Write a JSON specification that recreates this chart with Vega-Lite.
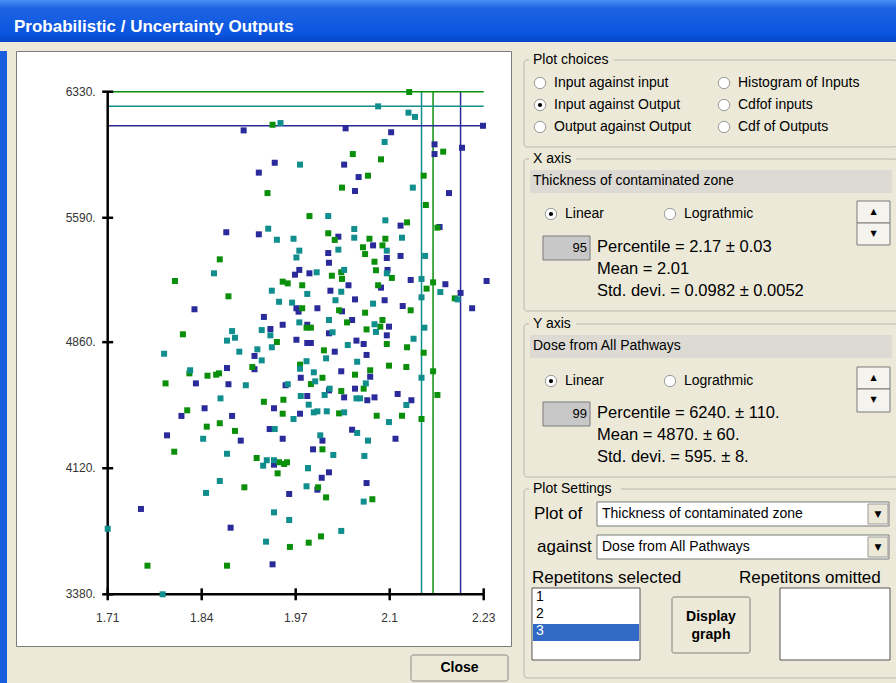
{
"$schema": "https://vega.github.io/schema/vega-lite/v6.json",
"background": "#ece9d8",
"padding": 0,
"config": {
  "view": {"stroke": null},
  "font": "Liberation Sans"
},
"datasets": {
  "choices": [
    {"label": "Input against input", "col": 0, "row": 0, "sel": false},
    {"label": "Input against Output", "col": 0, "row": 1, "sel": true},
    {"label": "Output against Output", "col": 0, "row": 2, "sel": false},
    {"label": "Histogram of Inputs", "col": 1, "row": 0, "sel": false},
    {"label": "Cdfof inputs", "col": 1, "row": 1, "sel": false},
    {"label": "Cdf of Outputs", "col": 1, "row": 2, "sel": false}
  ],
  "pct": [{"rep":"1","px":2.144,"py":6244},{"rep":"2","px":2.160,"py":6330},{"rep":"3","px":2.198,"py":6130}],
  "xticks": [{"v":1.71,"label":"1.71"},{"v":1.84,"label":"1.84"},{"v":1.97,"label":"1.97"},{"v":2.1,"label":"2.1"},{"v":2.23,"label":"2.23"}],
  "yticks": [{"v":3380,"label":"3380."},{"v":4120,"label":"4120."},{"v":4860,"label":"4860."},{"v":5590,"label":"5590."},{"v":6330,"label":"6330."}],
  "points": [
{"rep":"3","x":1.898,"y":6103},{"rep":"3","x":1.941,"y":5913},{"rep":"3","x":1.919,"y":5855},{"rep":"3","x":1.874,"y":5505},{"rep":"3","x":1.919,"y":5493},
{"rep":"3","x":2.039,"y":6115},{"rep":"3","x":2.102,"y":6092},{"rep":"3","x":2.162,"y":6021},{"rep":"3","x":2.162,"y":5964},{"rep":"3","x":2.200,"y":6001},
{"rep":"3","x":2.037,"y":5902},{"rep":"3","x":2.057,"y":5829},{"rep":"3","x":2.052,"y":5747},{"rep":"3","x":2.182,"y":5735},{"rep":"3","x":2.115,"y":5544},
{"rep":"3","x":2.169,"y":5536},{"rep":"3","x":2.029,"y":5479},{"rep":"3","x":2.077,"y":5428},{"rep":"3","x":2.015,"y":5383},{"rep":"3","x":2.115,"y":5366},
{"rep":"3","x":2.096,"y":5354},{"rep":"3","x":2.016,"y":5326},{"rep":"3","x":1.975,"y":5284},{"rep":"3","x":1.969,"y":5256},{"rep":"3","x":1.830,"y":5053},
{"rep":"3","x":1.971,"y":5059},{"rep":"3","x":1.974,"y":5039},{"rep":"3","x":1.926,"y":5008},{"rep":"3","x":1.952,"y":4962},{"rep":"3","x":1.935,"y":4937},
{"rep":"3","x":1.971,"y":4874},{"rep":"3","x":1.913,"y":4779},{"rep":"3","x":1.913,"y":4701},{"rep":"3","x":1.875,"y":4708},{"rep":"3","x":1.832,"y":4618},
{"rep":"3","x":1.877,"y":4613},{"rep":"3","x":1.956,"y":4607},{"rep":"3","x":1.977,"y":4651},{"rep":"3","x":1.844,"y":4472},{"rep":"3","x":1.940,"y":4472},
{"rep":"3","x":1.812,"y":4427},{"rep":"3","x":1.882,"y":4427},{"rep":"3","x":1.976,"y":4440},{"rep":"3","x":1.934,"y":4350},{"rep":"3","x":1.792,"y":4313},
{"rep":"3","x":1.989,"y":5264},{"rep":"3","x":2.097,"y":5284},{"rep":"3","x":2.129,"y":5225},{"rep":"3","x":2.177,"y":5200},{"rep":"3","x":2.234,"y":5219},
{"rep":"3","x":2.198,"y":5149},{"rep":"3","x":2.214,"y":5059},{"rep":"3","x":2.043,"y":5194},{"rep":"3","x":2.088,"y":5180},{"rep":"3","x":2.018,"y":5162},
{"rep":"3","x":2.052,"y":5111},{"rep":"3","x":2.093,"y":5106},{"rep":"3","x":2.118,"y":5072},{"rep":"3","x":2.000,"y":5059},{"rep":"3","x":2.034,"y":5041},
{"rep":"3","x":1.986,"y":4962},{"rep":"3","x":2.048,"y":4990},{"rep":"3","x":2.099,"y":4951},{"rep":"3","x":2.016,"y":4912},{"rep":"3","x":2.096,"y":4900},
{"rep":"3","x":1.986,"y":4855},{"rep":"3","x":1.991,"y":4855},{"rep":"3","x":2.054,"y":4869},{"rep":"3","x":2.064,"y":4849},{"rep":"3","x":2.024,"y":4804},
{"rep":"3","x":2.068,"y":4785},{"rep":"3","x":2.033,"y":4689},{"rep":"3","x":2.073,"y":4657},{"rep":"3","x":2.052,"y":4587},{"rep":"3","x":2.016,"y":4577},
{"rep":"3","x":2.111,"y":4556},{"rep":"3","x":1.986,"y":4544},{"rep":"3","x":2.037,"y":4536},{"rep":"3","x":2.069,"y":4519},{"rep":"3","x":2.079,"y":4536},
{"rep":"3","x":2.130,"y":4519},{"rep":"3","x":2.048,"y":4346},{"rep":"3","x":1.894,"y":4282},{"rep":"3","x":1.952,"y":4293},{"rep":"3","x":1.940,"y":4141},
{"rep":"3","x":1.961,"y":3969},{"rep":"3","x":1.756,"y":3881},{"rep":"3","x":1.880,"y":3771},{"rep":"3","x":1.938,"y":3556},{"rep":"3","x":2.007,"y":4282},
{"rep":"3","x":2.108,"y":4293},{"rep":"3","x":1.994,"y":4231},{"rep":"3","x":2.016,"y":4096},{"rep":"3","x":2.006,"y":4064},{"rep":"3","x":2.068,"y":4033},
{"rep":"3","x":2.000,"y":3994},{"rep":"3","x":2.229,"y":6130},
{"rep":"2","x":1.938,"y":6136},{"rep":"2","x":1.931,"y":5735},{"rep":"2","x":1.865,"y":5346},{"rep":"2","x":2.127,"y":6328},{"rep":"2","x":2.174,"y":5978},
{"rep":"2","x":2.049,"y":5964},{"rep":"2","x":2.088,"y":5933},{"rep":"2","x":2.070,"y":5837},{"rep":"2","x":2.034,"y":5767},{"rep":"2","x":2.147,"y":5837},
{"rep":"2","x":2.150,"y":5665},{"rep":"2","x":1.989,"y":5600},{"rep":"2","x":2.124,"y":5563},{"rep":"2","x":2.166,"y":5532},{"rep":"2","x":2.015,"y":5499},
{"rep":"2","x":2.024,"y":5460},{"rep":"2","x":2.072,"y":5467},{"rep":"2","x":2.094,"y":5467},{"rep":"2","x":2.063,"y":5417},{"rep":"2","x":2.090,"y":5428},
{"rep":"2","x":2.066,"y":5377},{"rep":"2","x":2.079,"y":5332},{"rep":"2","x":1.803,"y":5219},{"rep":"2","x":1.952,"y":5215},{"rep":"2","x":1.959,"y":5205},
{"rep":"2","x":1.979,"y":5194},{"rep":"2","x":1.877,"y":5129},{"rep":"2","x":1.979,"y":5059},{"rep":"2","x":1.814,"y":4906},{"rep":"2","x":1.944,"y":4861},
{"rep":"2","x":1.910,"y":4714},{"rep":"2","x":1.976,"y":4728},{"rep":"2","x":1.823,"y":4677},{"rep":"2","x":1.848,"y":4663},{"rep":"2","x":1.860,"y":4669},
{"rep":"2","x":1.864,"y":4677},{"rep":"2","x":1.790,"y":4618},{"rep":"2","x":1.926,"y":4510},{"rep":"2","x":1.953,"y":4522},{"rep":"2","x":1.820,"y":4460},
{"rep":"2","x":1.952,"y":4440},{"rep":"2","x":1.847,"y":4364},{"rep":"2","x":1.865,"y":4384},{"rep":"2","x":1.886,"y":4339},{"rep":"2","x":2.020,"y":5250},
{"rep":"2","x":2.033,"y":5270},{"rep":"2","x":2.034,"y":5231},{"rep":"2","x":2.081,"y":5282},{"rep":"2","x":2.103,"y":5237},{"rep":"2","x":2.160,"y":5211},
{"rep":"2","x":2.151,"y":5174},{"rep":"2","x":2.190,"y":5117},{"rep":"2","x":2.084,"y":5194},{"rep":"2","x":2.129,"y":5047},{"rep":"2","x":2.030,"y":5047},
{"rep":"2","x":2.066,"y":5033},{"rep":"2","x":1.985,"y":4945},{"rep":"2","x":1.991,"y":4945},{"rep":"2","x":2.041,"y":4976},{"rep":"2","x":2.090,"y":4990},
{"rep":"2","x":2.087,"y":4951},{"rep":"2","x":2.068,"y":4935},{"rep":"2","x":2.096,"y":4849},{"rep":"2","x":2.124,"y":4830},{"rep":"2","x":2.009,"y":4812},
{"rep":"2","x":2.147,"y":4798},{"rep":"2","x":2.099,"y":4722},{"rep":"2","x":2.123,"y":4714},{"rep":"2","x":2.073,"y":4695},{"rep":"2","x":2.160,"y":4689},
{"rep":"2","x":2.052,"y":4669},{"rep":"2","x":2.007,"y":4651},{"rep":"2","x":1.991,"y":4614},{"rep":"2","x":2.064,"y":4587},{"rep":"2","x":2.033,"y":4573},
{"rep":"2","x":2.166,"y":4550},{"rep":"2","x":2.030,"y":4442},{"rep":"2","x":2.082,"y":4428},{"rep":"2","x":2.117,"y":4428},{"rep":"2","x":2.144,"y":4409},
{"rep":"2","x":1.802,"y":4217},{"rep":"2","x":1.916,"y":4180},{"rep":"2","x":1.947,"y":4155},{"rep":"2","x":1.954,"y":4145},{"rep":"2","x":1.958,"y":4155},
{"rep":"2","x":1.945,"y":4090},{"rep":"2","x":1.899,"y":4008},{"rep":"2","x":1.962,"y":3658},{"rep":"2","x":1.765,"y":3548},{"rep":"2","x":1.875,"y":3548},
{"rep":"2","x":2.007,"y":4231},{"rep":"2","x":1.987,"y":4120},{"rep":"2","x":2.001,"y":4008},{"rep":"2","x":2.012,"y":3949},{"rep":"2","x":2.076,"y":3938},
{"rep":"2","x":2.005,"y":3720},{"rep":"2","x":1.988,"y":3683},
{"rep":"1","x":1.949,"y":6146},{"rep":"1","x":1.976,"y":5902},{"rep":"1","x":1.932,"y":5526},{"rep":"1","x":1.944,"y":5461},{"rep":"1","x":1.967,"y":5467},
{"rep":"1","x":1.975,"y":5397},{"rep":"1","x":1.971,"y":5357},{"rep":"1","x":2.084,"y":6244},{"rep":"1","x":2.126,"y":6207},{"rep":"1","x":2.135,"y":6182},
{"rep":"1","x":2.093,"y":6035},{"rep":"1","x":2.132,"y":5767},{"rep":"1","x":2.015,"y":5600},{"rep":"1","x":2.094,"y":5575},{"rep":"1","x":2.051,"y":5524},
{"rep":"1","x":2.051,"y":5473},{"rep":"1","x":2.117,"y":5473},{"rep":"1","x":2.029,"y":5403},{"rep":"1","x":2.096,"y":5397},{"rep":"1","x":2.149,"y":5366},
{"rep":"1","x":1.857,"y":5264},{"rep":"1","x":1.937,"y":5162},{"rep":"1","x":1.947,"y":5097},{"rep":"1","x":1.965,"y":5092},{"rep":"1","x":1.975,"y":4976},
{"rep":"1","x":1.923,"y":4931},{"rep":"1","x":1.935,"y":4900},{"rep":"1","x":1.882,"y":4925},{"rep":"1","x":1.886,"y":4886},{"rep":"1","x":1.875,"y":4869},
{"rep":"1","x":1.937,"y":4830},{"rep":"1","x":1.917,"y":4818},{"rep":"1","x":1.892,"y":4804},{"rep":"1","x":1.788,"y":4792},{"rep":"1","x":1.923,"y":4753},
{"rep":"1","x":1.976,"y":4704},{"rep":"1","x":1.824,"y":4695},{"rep":"1","x":1.901,"y":4607},{"rep":"1","x":1.959,"y":4613},{"rep":"1","x":1.866,"y":4530},
{"rep":"1","x":1.977,"y":4544},{"rep":"1","x":1.967,"y":4409},{"rep":"1","x":1.941,"y":4350},{"rep":"1","x":1.999,"y":5270},{"rep":"1","x":2.037,"y":5284},
{"rep":"1","x":2.096,"y":5264},{"rep":"1","x":2.144,"y":5231},{"rep":"1","x":2.170,"y":5154},{"rep":"1","x":2.194,"y":5111},{"rep":"1","x":2.144,"y":5123},
{"rep":"1","x":2.033,"y":5156},{"rep":"1","x":1.986,"y":5143},{"rep":"1","x":2.025,"y":5106},{"rep":"1","x":2.077,"y":5086},{"rep":"1","x":2.016,"y":4990},
{"rep":"1","x":2.079,"y":4965},{"rep":"1","x":2.081,"y":4920},{"rep":"1","x":2.021,"y":4918},{"rep":"1","x":2.148,"y":4945},{"rep":"1","x":2.133,"y":4880},
{"rep":"1","x":2.042,"y":4843},{"rep":"1","x":2.012,"y":4765},{"rep":"1","x":1.985,"y":4748},{"rep":"1","x":2.055,"y":4745},{"rep":"1","x":1.995,"y":4683},
{"rep":"1","x":2.144,"y":4651},{"rep":"1","x":1.997,"y":4630},{"rep":"1","x":2.067,"y":4618},{"rep":"1","x":2.017,"y":4587},{"rep":"1","x":2.010,"y":4550},
{"rep":"1","x":1.988,"y":4493},{"rep":"1","x":2.054,"y":4530},{"rep":"1","x":2.059,"y":4530},{"rep":"1","x":2.123,"y":4491},{"rep":"1","x":1.995,"y":4448},
{"rep":"1","x":2.000,"y":4454},{"rep":"1","x":2.013,"y":4454},{"rep":"1","x":2.037,"y":4448},{"rep":"1","x":2.099,"y":4391},{"rep":"1","x":2.055,"y":4327},
{"rep":"1","x":2.004,"y":4313},{"rep":"1","x":1.842,"y":4293},{"rep":"1","x":1.875,"y":4205},{"rep":"1","x":1.930,"y":4167},{"rep":"1","x":1.940,"y":4167},
{"rep":"1","x":1.925,"y":4135},{"rep":"1","x":1.865,"y":4045},{"rep":"1","x":1.846,"y":3975},{"rep":"1","x":1.940,"y":3861},{"rep":"1","x":1.961,"y":3816},
{"rep":"1","x":1.710,"y":3765},{"rep":"1","x":1.929,"y":3689},{"rep":"1","x":1.786,"y":3380},{"rep":"1","x":2.070,"y":4282},{"rep":"1","x":2.022,"y":4198},
{"rep":"1","x":2.065,"y":4192},{"rep":"1","x":1.987,"y":4121},{"rep":"1","x":1.985,"y":4014},{"rep":"1","x":2.064,"y":3924},{"rep":"1","x":2.033,"y":3752}
  ]
},
"spacing": 8,
"vconcat": [
  {
    "width": 896, "height": 42,
    "data": {"values": [{"title": "Probabilistic / Uncertainty Outputs"}]},
    "layer": [
      {"mark": {"type": "rect", "color": {"x1": 0, "y1": 0, "x2": 0, "y2": 1, "gradient": "linear", "stops": [{"offset": 0, "color": "#4a8ff5"}, {"offset": 0.2, "color": "#1e63e3"}, {"offset": 0.8, "color": "#0a55e0"}, {"offset": 1, "color": "#0845c8"}]}}, "encoding": {}},
      {"mark": {"type": "text", "align": "left", "baseline": "middle", "color": "white", "font": "Liberation Sans", "fontWeight": "bold", "fontSize": 17, "dx": 14},
       "encoding": {"text": {"field": "title"}, "x": {"datum": 0, "type": "quantitative", "scale": {"domain": [0, 1]}, "axis": null}, "y": {"datum": 0.36, "type": "quantitative", "scale": {"domain": [0, 1]}, "axis": null}}}
    ]
  },
  {
    "spacing": 8,
    "hconcat": [
      {"width": 7, "height": 633, "data": {"values": [{}]}, "mark": {"type": "rect", "color": "#1a5ee0"}, "encoding": {}},
      {
        "spacing": 7,
        "vconcat": [
          {
            "width": 495, "height": 595,
            "view": {"fill": "white", "stroke": "#7a7a7a", "strokeWidth": 1},
            "layer": [
              {"data": {"name": "pct"}, "mark": {"type": "rule", "strokeWidth": 1.5},
               "encoding": {"x": {"field": "px", "type": "quantitative", "scale": {"domain": [1.58318, 2.26776], "nice": false, "zero": false}, "axis": null},
                            "y": {"datum": 3380, "type": "quantitative", "scale": {"domain": [3076.6, 6568.9], "nice": false, "zero": false}, "axis": null}, "y2": {"datum": 6330},
                            "color": {"field": "rep", "type": "nominal", "scale": {"domain": ["1", "2", "3"], "range": ["#108e8e", "#0a8f0a", "#2a2a9a"]}, "legend": null}}},
              {"data": {"name": "pct"}, "mark": {"type": "rule", "strokeWidth": 1.5},
               "encoding": {"y": {"field": "py", "type": "quantitative", "axis": null},
                            "x": {"datum": 1.71, "type": "quantitative", "axis": null}, "x2": {"datum": 2.23},
                            "color": {"field": "rep", "type": "nominal", "legend": null}}},
              {"data": {"values": [{}]}, "mark": {"type": "rule", "color": "#000000", "strokeWidth": 2.5},
               "encoding": {"x": {"datum": 1.71, "type": "quantitative", "axis": null}, "y": {"datum": 3380, "type": "quantitative", "axis": null}, "y2": {"datum": 6330}}},
              {"data": {"values": [{}]}, "mark": {"type": "rule", "color": "#000000", "strokeWidth": 2.5},
               "encoding": {"y": {"datum": 3380, "type": "quantitative", "axis": null}, "x": {"datum": 1.71, "type": "quantitative", "axis": null}, "x2": {"datum": 2.23}}},
              {"data": {"name": "xticks"}, "mark": {"type": "rule", "color": "#000000", "strokeWidth": 2.5},
               "encoding": {"x": {"field": "v", "type": "quantitative", "axis": null}, "y": {"datum": 3345, "type": "quantitative", "axis": null}, "y2": {"datum": 3415}}},
              {"data": {"name": "xticks"}, "mark": {"type": "text", "align": "center", "baseline": "middle", "dy": 24, "fontSize": 12, "color": "#333333"},
               "encoding": {"x": {"field": "v", "type": "quantitative", "axis": null}, "y": {"datum": 3380, "type": "quantitative", "axis": null}, "text": {"field": "label"}}},
              {"data": {"name": "yticks"}, "mark": {"type": "rule", "color": "#000000", "strokeWidth": 2.5},
               "encoding": {"y": {"field": "v", "type": "quantitative", "axis": null}, "x": {"datum": 1.7024, "type": "quantitative", "axis": null}, "x2": {"datum": 1.7176}}},
              {"data": {"name": "yticks"}, "mark": {"type": "text", "align": "right", "baseline": "middle", "dx": -12, "fontSize": 12, "color": "#333333"},
               "encoding": {"y": {"field": "v", "type": "quantitative", "axis": null}, "x": {"datum": 1.71, "type": "quantitative", "axis": null}, "text": {"field": "label"}}},
              {"data": {"name": "points"}, "mark": {"type": "point", "shape": "square", "filled": true, "size": 36, "opacity": 1},
               "encoding": {
                 "x": {"field": "x", "type": "quantitative", "axis": null},
                 "y": {"field": "y", "type": "quantitative", "axis": null},
                 "color": {"field": "rep", "type": "nominal", "legend": null}
               }}
            ]
          },
          {
            "width": 495, "height": 26,
            "data": {"values": [{}]},
            "layer": [
              {"mark": {"type": "rect", "fill": "#ece9d8", "stroke": "#8a8a8a", "strokeWidth": 1, "cornerRadius": 2},
               "encoding": {"x": {"datum": 79.8, "type": "quantitative", "scale": {"domain": [0, 100]}, "axis": null}, "x2": {"datum": 99.4}, "y": {"datum": 0, "type": "quantitative", "scale": {"domain": [0, 100]}, "axis": null}, "y2": {"datum": 100}}},
              {"mark": {"type": "text", "text": "Close", "fontWeight": "bold", "fontSize": 14, "align": "center", "baseline": "middle", "color": "#000000"},
               "encoding": {"x": {"datum": 89.6, "type": "quantitative", "axis": null}, "y": {"datum": 50, "type": "quantitative", "axis": null}}}
            ]
          }
        ]
      },
      {
        "spacing": 3,
        "vconcat": [
          {
            "width": 378, "height": 98,
            "layer": [
              {"data": {"values": [{}]}, "mark": {"type": "rect", "fill": null, "stroke": "#bcb9ad", "strokeWidth": 1, "cornerRadius": 3},
               "encoding": {"x": {"datum": -0.087, "type": "quantitative", "scale": {"domain": [-0.1087, 1.9457], "nice": false, "zero": false}, "axis": null}, "x2": {"datum": 1.94}, "y": {"datum": -1.045, "type": "quantitative", "scale": {"domain": [-1.4545, 3.0], "nice": false, "zero": false, "reverse": true}, "axis": null}, "y2": {"datum": 2.909}}},
              {"data": {"values": [{}]}, "mark": {"type": "rect", "fill": "#ece9d8"},
               "encoding": {"x": {"datum": -0.06, "type": "quantitative", "scale": {"domain": [-0.1087, 1.9457], "nice": false, "zero": false}, "axis": null}, "x2": {"datum": 0.402}, "y": {"datum": -1.364, "type": "quantitative", "scale": {"domain": [-1.4545, 3.0], "nice": false, "zero": false, "reverse": true}, "axis": null}, "y2": {"datum": -0.727}}},
              {"data": {"values": [{}]}, "mark": {"type": "text", "text": "Plot choices", "align": "left", "baseline": "middle", "fontSize": 14, "color": "#000000"},
               "encoding": {"x": {"datum": -0.038, "type": "quantitative", "scale": {"domain": [-0.1087, 1.9457], "nice": false, "zero": false}, "axis": null}, "y": {"datum": -1.045, "type": "quantitative", "scale": {"domain": [-1.4545, 3.0], "nice": false, "zero": false, "reverse": true}, "axis": null}}},
              {"data": {"name": "choices"}, "mark": {"type": "point", "shape": "circle", "filled": true, "fill": "white", "stroke": "#9a9a9a", "strokeWidth": 1, "size": 130, "opacity": 1},
               "encoding": {"x": {"field": "col", "type": "quantitative", "scale": {"domain": [-0.1087, 1.9457], "nice": false, "zero": false}, "axis": null}, "y": {"field": "row", "type": "quantitative", "scale": {"domain": [-1.4545, 3.0], "nice": false, "zero": false, "reverse": true}, "axis": null}}},
              {"data": {"name": "choices"}, "transform": [{"filter": "datum.sel"}], "mark": {"type": "point", "shape": "circle", "filled": true, "size": 18, "color": "#000000", "opacity": 1},
               "encoding": {"x": {"field": "col", "type": "quantitative", "scale": {"domain": [-0.1087, 1.9457], "nice": false, "zero": false}, "axis": null}, "y": {"field": "row", "type": "quantitative", "scale": {"domain": [-1.4545, 3.0], "nice": false, "zero": false, "reverse": true}, "axis": null}}},
              {"data": {"name": "choices"}, "mark": {"type": "text", "align": "left", "baseline": "middle", "dx": 14, "fontSize": 14, "color": "#000000"},
               "encoding": {"x": {"field": "col", "type": "quantitative", "scale": {"domain": [-0.1087, 1.9457], "nice": false, "zero": false}, "axis": null}, "y": {"field": "row", "type": "quantitative", "scale": {"domain": [-1.4545, 3.0], "nice": false, "zero": false, "reverse": true}, "axis": null}, "text": {"field": "label"}}}
            ]
          },
          {
            "width": 378, "height": 161,
            "data": {"values": [{}]},
            "layer": [
              {"mark": {"type": "rect", "fill": null, "stroke": "#bcb9ad", "strokeWidth": 1, "cornerRadius": 3}, "encoding": {"x": {"datum": 1.06, "type": "quantitative", "scale": {"domain": [0, 100], "nice": false}, "axis": null}, "x2": {"datum": 99.74}, "y": {"datum": 4.35, "type": "quantitative", "scale": {"domain": [0, 100], "nice": false, "reverse": true}, "axis": null}, "y2": {"datum": 98.76}}},
              {"mark": {"type": "rect", "fill": "#ece9d8"}, "encoding": {"x": {"datum": 2.38, "type": "quantitative", "axis": null}, "x2": {"datum": 14.81}, "y": {"datum": 0, "type": "quantitative", "axis": null}, "y2": {"datum": 8.7}}},
              {"mark": {"type": "text", "text": "X axis", "align": "left", "baseline": "middle", "fontSize": 14, "color": "#000000"}, "encoding": {"x": {"datum": 3.44, "type": "quantitative", "axis": null}, "y": {"datum": 4.35, "type": "quantitative", "axis": null}}},
              {"mark": {"type": "rect", "fill": "#dcdad3"}, "encoding": {"x": {"datum": 2.65, "type": "quantitative", "axis": null}, "x2": {"datum": 98.41}, "y": {"datum": 11.18, "type": "quantitative", "axis": null}, "y2": {"datum": 25.47}}},
              {"mark": {"type": "text", "text": "Thickness of contaminated zone", "align": "left", "baseline": "middle", "fontSize": 14, "color": "#000000"}, "encoding": {"x": {"datum": 3.44, "type": "quantitative", "axis": null}, "y": {"datum": 18.01, "type": "quantitative", "axis": null}}},
              {"mark": {"type": "point", "shape": "circle", "filled": true, "fill": "white", "stroke": "#9a9a9a", "strokeWidth": 1, "size": 130, "opacity": 1}, "encoding": {"x": {"datum": 8.2, "type": "quantitative", "axis": null}, "y": {"datum": 38.51, "type": "quantitative", "axis": null}}},
              {"mark": {"type": "point", "shape": "circle", "filled": true, "fill": "white", "stroke": "#9a9a9a", "strokeWidth": 1, "size": 130, "opacity": 1}, "encoding": {"x": {"datum": 39.68, "type": "quantitative", "axis": null}, "y": {"datum": 38.51, "type": "quantitative", "axis": null}}},
              {"mark": {"type": "point", "shape": "circle", "filled": true, "color": "#000000", "size": 18, "opacity": 1}, "encoding": {"x": {"datum": 8.2, "type": "quantitative", "axis": null}, "y": {"datum": 38.51, "type": "quantitative", "axis": null}}},
              {"mark": {"type": "text", "text": "Linear", "align": "left", "baseline": "middle", "dx": 14, "fontSize": 14, "color": "#000000"}, "encoding": {"x": {"datum": 8.2, "type": "quantitative", "axis": null}, "y": {"datum": 38.51, "type": "quantitative", "axis": null}}},
              {"mark": {"type": "text", "text": "Lograthmic", "align": "left", "baseline": "middle", "dx": 14, "fontSize": 14, "color": "#000000"}, "encoding": {"x": {"datum": 39.68, "type": "quantitative", "axis": null}, "y": {"datum": 38.51, "type": "quantitative", "axis": null}}},
              {"mark": {"type": "rect", "fill": "#f4f3ee", "stroke": "#7a7a7a", "strokeWidth": 1}, "encoding": {"x": {"datum": 89.15, "type": "quantitative", "axis": null}, "x2": {"datum": 97.88}, "y": {"datum": 30.43, "type": "quantitative", "axis": null}, "y2": {"datum": 44.1}}},
              {"mark": {"type": "rect", "fill": "#f4f3ee", "stroke": "#7a7a7a", "strokeWidth": 1}, "encoding": {"x": {"datum": 89.15, "type": "quantitative", "axis": null}, "x2": {"datum": 97.88}, "y": {"datum": 44.1, "type": "quantitative", "axis": null}, "y2": {"datum": 57.76}}},
              {"mark": {"type": "text", "text": "▲", "align": "center", "baseline": "middle", "fontSize": 8, "font": "DejaVu Sans", "color": "#000000"}, "encoding": {"x": {"datum": 93.52, "type": "quantitative", "axis": null}, "y": {"datum": 37.27, "type": "quantitative", "axis": null}}},
              {"mark": {"type": "text", "text": "▼", "align": "center", "baseline": "middle", "fontSize": 8, "font": "DejaVu Sans", "color": "#000000"}, "encoding": {"x": {"datum": 93.52, "type": "quantitative", "axis": null}, "y": {"datum": 50.93, "type": "quantitative", "axis": null}}},
              {"mark": {"type": "rect", "fill": "#c8c8c8", "stroke": "#7a7a7a", "strokeWidth": 1}, "encoding": {"x": {"datum": 6.08, "type": "quantitative", "axis": null}, "x2": {"datum": 18.52}, "y": {"datum": 52.17, "type": "quantitative", "axis": null}, "y2": {"datum": 67.08}}},
              {"mark": {"type": "text", "text": "95", "align": "right", "baseline": "middle", "fontSize": 13, "color": "#000000"}, "encoding": {"x": {"datum": 17.72, "type": "quantitative", "axis": null}, "y": {"datum": 59.63, "type": "quantitative", "axis": null}}},
              {"mark": {"type": "text", "text": "Percentile = 2.17 ± 0.03", "align": "left", "baseline": "middle", "fontSize": 16.5, "color": "#000000"}, "encoding": {"x": {"datum": 20.37, "type": "quantitative", "axis": null}, "y": {"datum": 59.01, "type": "quantitative", "axis": null}}},
              {"mark": {"type": "text", "text": "Mean = 2.01", "align": "left", "baseline": "middle", "fontSize": 16.5, "color": "#000000"}, "encoding": {"x": {"datum": 20.37, "type": "quantitative", "axis": null}, "y": {"datum": 72.67, "type": "quantitative", "axis": null}}},
              {"mark": {"type": "text", "text": "Std. devi. = 0.0982 ± 0.0052", "align": "left", "baseline": "middle", "fontSize": 16.5, "color": "#000000"}, "encoding": {"x": {"datum": 20.37, "type": "quantitative", "axis": null}, "y": {"datum": 86.34, "type": "quantitative", "axis": null}}}
            ]
          },
          {
            "width": 378, "height": 162,
            "data": {"values": [{}]},
            "layer": [
              {"mark": {"type": "rect", "fill": null, "stroke": "#bcb9ad", "strokeWidth": 1, "cornerRadius": 3}, "encoding": {"x": {"datum": 1.06, "type": "quantitative", "scale": {"domain": [0, 100], "nice": false}, "axis": null}, "x2": {"datum": 99.74}, "y": {"datum": 4.32, "type": "quantitative", "scale": {"domain": [0, 100], "nice": false, "reverse": true}, "axis": null}, "y2": {"datum": 98.77}}},
              {"mark": {"type": "rect", "fill": "#ece9d8"}, "encoding": {"x": {"datum": 2.38, "type": "quantitative", "axis": null}, "x2": {"datum": 14.81}, "y": {"datum": 0, "type": "quantitative", "axis": null}, "y2": {"datum": 8.64}}},
              {"mark": {"type": "text", "text": "Y axis", "align": "left", "baseline": "middle", "fontSize": 14, "color": "#000000"}, "encoding": {"x": {"datum": 3.44, "type": "quantitative", "axis": null}, "y": {"datum": 4.32, "type": "quantitative", "axis": null}}},
              {"mark": {"type": "rect", "fill": "#dcdad3"}, "encoding": {"x": {"datum": 2.65, "type": "quantitative", "axis": null}, "x2": {"datum": 98.41}, "y": {"datum": 11.11, "type": "quantitative", "axis": null}, "y2": {"datum": 25.31}}},
              {"mark": {"type": "text", "text": "Dose from All Pathways", "align": "left", "baseline": "middle", "fontSize": 14, "color": "#000000"}, "encoding": {"x": {"datum": 3.44, "type": "quantitative", "axis": null}, "y": {"datum": 17.9, "type": "quantitative", "axis": null}}},
              {"mark": {"type": "point", "shape": "circle", "filled": true, "fill": "white", "stroke": "#9a9a9a", "strokeWidth": 1, "size": 130, "opacity": 1}, "encoding": {"x": {"datum": 8.2, "type": "quantitative", "axis": null}, "y": {"datum": 39.51, "type": "quantitative", "axis": null}}},
              {"mark": {"type": "point", "shape": "circle", "filled": true, "fill": "white", "stroke": "#9a9a9a", "strokeWidth": 1, "size": 130, "opacity": 1}, "encoding": {"x": {"datum": 39.68, "type": "quantitative", "axis": null}, "y": {"datum": 39.51, "type": "quantitative", "axis": null}}},
              {"mark": {"type": "point", "shape": "circle", "filled": true, "color": "#000000", "size": 18, "opacity": 1}, "encoding": {"x": {"datum": 8.2, "type": "quantitative", "axis": null}, "y": {"datum": 39.51, "type": "quantitative", "axis": null}}},
              {"mark": {"type": "text", "text": "Linear", "align": "left", "baseline": "middle", "dx": 14, "fontSize": 14, "color": "#000000"}, "encoding": {"x": {"datum": 8.2, "type": "quantitative", "axis": null}, "y": {"datum": 39.51, "type": "quantitative", "axis": null}}},
              {"mark": {"type": "text", "text": "Lograthmic", "align": "left", "baseline": "middle", "dx": 14, "fontSize": 14, "color": "#000000"}, "encoding": {"x": {"datum": 39.68, "type": "quantitative", "axis": null}, "y": {"datum": 39.51, "type": "quantitative", "axis": null}}},
              {"mark": {"type": "rect", "fill": "#f4f3ee", "stroke": "#7a7a7a", "strokeWidth": 1}, "encoding": {"x": {"datum": 89.15, "type": "quantitative", "axis": null}, "x2": {"datum": 97.88}, "y": {"datum": 30.86, "type": "quantitative", "axis": null}, "y2": {"datum": 44.44}}},
              {"mark": {"type": "rect", "fill": "#f4f3ee", "stroke": "#7a7a7a", "strokeWidth": 1}, "encoding": {"x": {"datum": 89.15, "type": "quantitative", "axis": null}, "x2": {"datum": 97.88}, "y": {"datum": 44.44, "type": "quantitative", "axis": null}, "y2": {"datum": 58.64}}},
              {"mark": {"type": "text", "text": "▲", "align": "center", "baseline": "middle", "fontSize": 8, "font": "DejaVu Sans", "color": "#000000"}, "encoding": {"x": {"datum": 93.52, "type": "quantitative", "axis": null}, "y": {"datum": 37.65, "type": "quantitative", "axis": null}}},
              {"mark": {"type": "text", "text": "▼", "align": "center", "baseline": "middle", "fontSize": 8, "font": "DejaVu Sans", "color": "#000000"}, "encoding": {"x": {"datum": 93.52, "type": "quantitative", "axis": null}, "y": {"datum": 51.54, "type": "quantitative", "axis": null}}},
              {"mark": {"type": "rect", "fill": "#c8c8c8", "stroke": "#7a7a7a", "strokeWidth": 1}, "encoding": {"x": {"datum": 6.08, "type": "quantitative", "axis": null}, "x2": {"datum": 18.52}, "y": {"datum": 52.47, "type": "quantitative", "axis": null}, "y2": {"datum": 67.28}}},
              {"mark": {"type": "text", "text": "99", "align": "right", "baseline": "middle", "fontSize": 13, "color": "#000000"}, "encoding": {"x": {"datum": 17.72, "type": "quantitative", "axis": null}, "y": {"datum": 59.88, "type": "quantitative", "axis": null}}},
              {"mark": {"type": "text", "text": "Percentile = 6240. ± 110.", "align": "left", "baseline": "middle", "fontSize": 16.5, "color": "#000000"}, "encoding": {"x": {"datum": 20.37, "type": "quantitative", "axis": null}, "y": {"datum": 59.26, "type": "quantitative", "axis": null}}},
              {"mark": {"type": "text", "text": "Mean = 4870. ± 60.", "align": "left", "baseline": "middle", "fontSize": 16.5, "color": "#000000"}, "encoding": {"x": {"datum": 20.37, "type": "quantitative", "axis": null}, "y": {"datum": 72.84, "type": "quantitative", "axis": null}}},
              {"mark": {"type": "text", "text": "Std. devi. = 595. ± 8.", "align": "left", "baseline": "middle", "fontSize": 16.5, "color": "#000000"}, "encoding": {"x": {"datum": 20.37, "type": "quantitative", "axis": null}, "y": {"datum": 86.42, "type": "quantitative", "axis": null}}}
            ]
          },
          {
            "width": 378, "height": 203,
            "data": {"values": [{}]},
            "layer": [
              {"mark": {"type": "rect", "fill": null, "stroke": "#bcb9ad", "strokeWidth": 1, "cornerRadius": 3}, "encoding": {"x": {"datum": 1.06, "type": "quantitative", "scale": {"domain": [0, 100], "nice": false}, "axis": null}, "x2": {"datum": 99.74}, "y": {"datum": 3.45, "type": "quantitative", "scale": {"domain": [0, 100], "nice": false, "reverse": true}, "axis": null}, "y2": {"datum": 96.55}}},
              {"mark": {"type": "rect", "fill": "#ece9d8"}, "encoding": {"x": {"datum": 2.38, "type": "quantitative", "axis": null}, "x2": {"datum": 26.72}, "y": {"datum": 0, "type": "quantitative", "axis": null}, "y2": {"datum": 6.9}}},
              {"mark": {"type": "text", "text": "Plot Settings", "align": "left", "baseline": "middle", "fontSize": 14, "color": "#000000"}, "encoding": {"x": {"datum": 3.44, "type": "quantitative", "axis": null}, "y": {"datum": 3.45, "type": "quantitative", "axis": null}}},
              {"mark": {"type": "text", "text": "Plot of", "align": "left", "baseline": "middle", "fontSize": 17, "color": "#000000"}, "encoding": {"x": {"datum": 3.7, "type": "quantitative", "axis": null}, "y": {"datum": 15.76, "type": "quantitative", "axis": null}}},
              {"mark": {"type": "rect", "fill": "white", "stroke": "#7a7a7a", "strokeWidth": 1}, "encoding": {"x": {"datum": 20.37, "type": "quantitative", "axis": null}, "x2": {"datum": 97.62}, "y": {"datum": 9.85, "type": "quantitative", "axis": null}, "y2": {"datum": 21.67}}},
              {"mark": {"type": "text", "text": "Thickness of contaminated zone", "align": "left", "baseline": "middle", "fontSize": 14, "color": "#000000"}, "encoding": {"x": {"datum": 21.69, "type": "quantitative", "axis": null}, "y": {"datum": 15.76, "type": "quantitative", "axis": null}}},
              {"mark": {"type": "rect", "fill": "#ece9d8", "stroke": "#9a9a9a", "strokeWidth": 1}, "encoding": {"x": {"datum": 92.06, "type": "quantitative", "axis": null}, "x2": {"datum": 97.35}, "y": {"datum": 10.84, "type": "quantitative", "axis": null}, "y2": {"datum": 20.69}}},
              {"mark": {"type": "text", "text": "▼", "align": "center", "baseline": "middle", "fontSize": 9, "font": "DejaVu Sans", "color": "#000000"}, "encoding": {"x": {"datum": 94.71, "type": "quantitative", "axis": null}, "y": {"datum": 15.76, "type": "quantitative", "axis": null}}},
              {"mark": {"type": "text", "text": "against", "align": "left", "baseline": "middle", "fontSize": 17, "color": "#000000"}, "encoding": {"x": {"datum": 4.5, "type": "quantitative", "axis": null}, "y": {"datum": 32.02, "type": "quantitative", "axis": null}}},
              {"mark": {"type": "rect", "fill": "white", "stroke": "#7a7a7a", "strokeWidth": 1}, "encoding": {"x": {"datum": 20.37, "type": "quantitative", "axis": null}, "x2": {"datum": 97.62}, "y": {"datum": 26.11, "type": "quantitative", "axis": null}, "y2": {"datum": 37.93}}},
              {"mark": {"type": "text", "text": "Dose from All Pathways", "align": "left", "baseline": "middle", "fontSize": 14, "color": "#000000"}, "encoding": {"x": {"datum": 21.69, "type": "quantitative", "axis": null}, "y": {"datum": 32.02, "type": "quantitative", "axis": null}}},
              {"mark": {"type": "rect", "fill": "#ece9d8", "stroke": "#9a9a9a", "strokeWidth": 1}, "encoding": {"x": {"datum": 92.06, "type": "quantitative", "axis": null}, "x2": {"datum": 97.35}, "y": {"datum": 27.09, "type": "quantitative", "axis": null}, "y2": {"datum": 36.95}}},
              {"mark": {"type": "text", "text": "▼", "align": "center", "baseline": "middle", "fontSize": 9, "font": "DejaVu Sans", "color": "#000000"}, "encoding": {"x": {"datum": 94.71, "type": "quantitative", "axis": null}, "y": {"datum": 32.02, "type": "quantitative", "axis": null}}},
              {"mark": {"type": "text", "text": "Repetitons selected", "align": "left", "baseline": "middle", "fontSize": 17, "color": "#000000"}, "encoding": {"x": {"datum": 3.17, "type": "quantitative", "axis": null}, "y": {"datum": 47.29, "type": "quantitative", "axis": null}}},
              {"mark": {"type": "text", "text": "Repetitons omitted", "align": "left", "baseline": "middle", "fontSize": 17, "color": "#000000"}, "encoding": {"x": {"datum": 57.94, "type": "quantitative", "axis": null}, "y": {"datum": 47.29, "type": "quantitative", "axis": null}}},
              {"mark": {"type": "rect", "fill": "white", "stroke": "#555555", "strokeWidth": 1}, "encoding": {"x": {"datum": 3.17, "type": "quantitative", "axis": null}, "x2": {"datum": 31.75}, "y": {"datum": 52.22, "type": "quantitative", "axis": null}, "y2": {"datum": 87.68}}},
              {"mark": {"type": "rect", "fill": "#316ac5"}, "encoding": {"x": {"datum": 3.44, "type": "quantitative", "axis": null}, "x2": {"datum": 31.48}, "y": {"datum": 69.95, "type": "quantitative", "axis": null}, "y2": {"datum": 78.33}}},
              {"mark": {"type": "text", "text": "1", "align": "left", "baseline": "middle", "fontSize": 14, "color": "#000000"}, "encoding": {"x": {"datum": 4.23, "type": "quantitative", "axis": null}, "y": {"datum": 56.65, "type": "quantitative", "axis": null}}},
              {"mark": {"type": "text", "text": "2", "align": "left", "baseline": "middle", "fontSize": 14, "color": "#000000"}, "encoding": {"x": {"datum": 4.23, "type": "quantitative", "axis": null}, "y": {"datum": 65.02, "type": "quantitative", "axis": null}}},
              {"mark": {"type": "text", "text": "3", "align": "left", "baseline": "middle", "fontSize": 14, "color": "#ffffff"}, "encoding": {"x": {"datum": 4.23, "type": "quantitative", "axis": null}, "y": {"datum": 73.4, "type": "quantitative", "axis": null}}},
              {"mark": {"type": "rect", "fill": "#ece9d8", "stroke": "#808080", "strokeWidth": 1, "cornerRadius": 2}, "encoding": {"x": {"datum": 40.21, "type": "quantitative", "axis": null}, "x2": {"datum": 60.85}, "y": {"datum": 56.65, "type": "quantitative", "axis": null}, "y2": {"datum": 84.24}}},
              {"mark": {"type": "text", "text": "Display", "align": "center", "baseline": "middle", "fontSize": 14, "fontWeight": "bold", "color": "#000000"}, "encoding": {"x": {"datum": 50.53, "type": "quantitative", "axis": null}, "y": {"datum": 66.5, "type": "quantitative", "axis": null}}},
              {"mark": {"type": "text", "text": "graph", "align": "center", "baseline": "middle", "fontSize": 14, "fontWeight": "bold", "color": "#000000"}, "encoding": {"x": {"datum": 50.53, "type": "quantitative", "axis": null}, "y": {"datum": 75.37, "type": "quantitative", "axis": null}}},
              {"mark": {"type": "rect", "fill": "white", "stroke": "#555555", "strokeWidth": 1}, "encoding": {"x": {"datum": 68.78, "type": "quantitative", "axis": null}, "x2": {"datum": 97.88}, "y": {"datum": 52.22, "type": "quantitative", "axis": null}, "y2": {"datum": 87.68}}}
            ]
          }
        ]
      }
    ]
  }
]
}
